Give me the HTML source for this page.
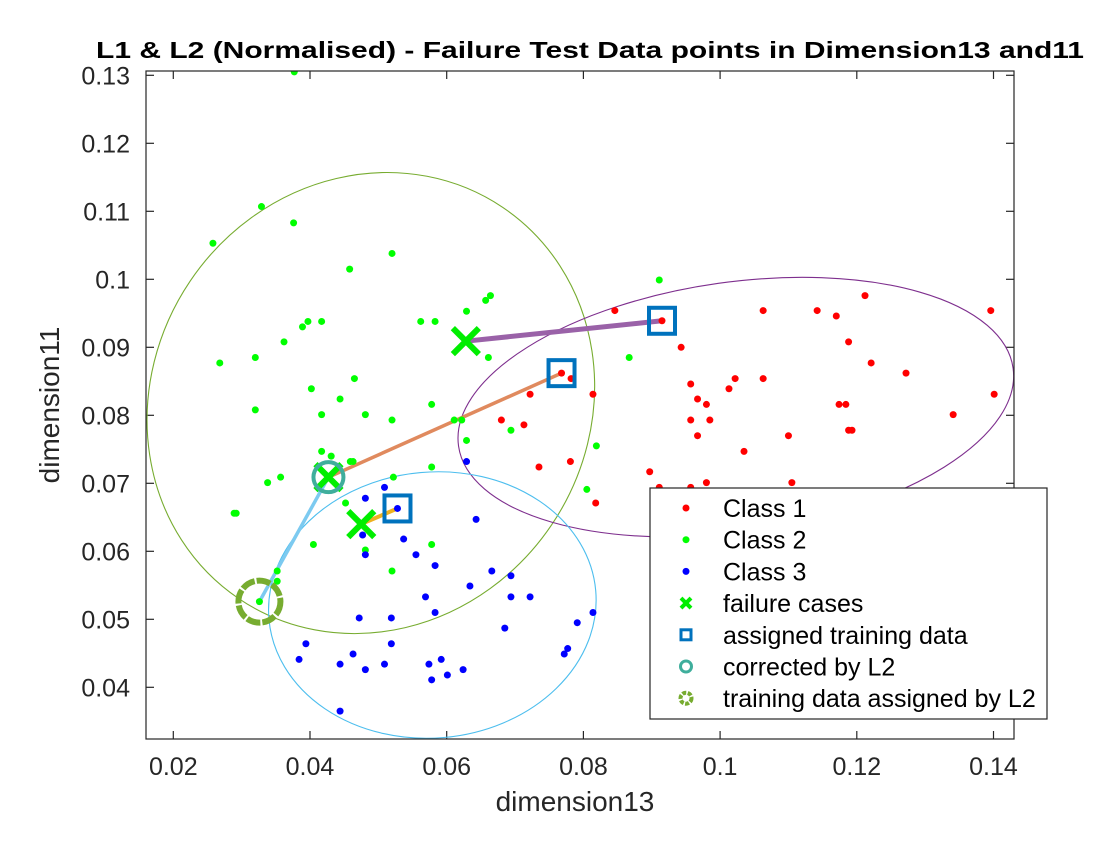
<!DOCTYPE html>
<html><head><meta charset="utf-8"><style>
body{margin:0;background:#fff;}
svg text{font-family:"Liberation Sans",sans-serif;}
</style></head><body>
<svg id="chart" width="1120" height="840" viewBox="0 0 1120 840" xmlns="http://www.w3.org/2000/svg">
<defs><clipPath id="clip"><rect x="146" y="71" width="868" height="668"/></clipPath></defs>
<rect x="0" y="0" width="1120" height="840" fill="#fff"/>
<rect x="146" y="71" width="868" height="668" fill="#fff"/>
<text x="590" y="58" text-anchor="middle" font-size="23" font-weight="bold" textLength="988" lengthAdjust="spacingAndGlyphs">L1 &amp; L2 (Normalised) - Failure Test Data points in Dimension13 and11</text>
<g id="axes"></g>
<g id="plot" clip-path="url(#clip)"></g>
<rect x="146" y="71" width="868" height="668" fill="none" stroke="#262626" stroke-width="1.2"/>
<text x="575" y="811" text-anchor="middle" font-size="28" fill="#262626">dimension13</text>
<text x="0" y="0" transform="translate(59,405) rotate(-90)" text-anchor="middle" font-size="28" fill="#262626">dimension11</text>
<g id="legend"></g>
</svg>
<script>
const xTicks=[0.02,0.04,0.06,0.08,0.1,0.12,0.14];
const yTicks=[0.04,0.05,0.06,0.07,0.08,0.09,0.1,0.11,0.12,0.13];
const class1X=[0.0846,0.0915,0.1063,0.1142,0.1170,0.1212,0.1396,0.0943,0.1188,0.1221,0.1272,0.0957,0.1022,0.1063,0.1013,0.1401,0.0967,0.0980,0.1174,0.1184,0.1341,0.0957,0.0985,0.1188,0.1193,0.0967,0.1100,0.1035,0.0897,0.0980,0.1105,0.0911,0.0957,0.0768,0.0782,0.0722,0.0814,0.0680,0.0713,0.0735,0.0781,0.0818];
const class1Y=[0.0954,0.0939,0.0954,0.0954,0.0946,0.0976,0.0954,0.0900,0.0908,0.0877,0.0862,0.0846,0.0854,0.0854,0.0839,0.0831,0.0824,0.0816,0.0816,0.0816,0.0801,0.0793,0.0793,0.0778,0.0778,0.0770,0.0770,0.0747,0.0717,0.0701,0.0701,0.0694,0.0694,0.0862,0.0854,0.0831,0.0831,0.0793,0.0786,0.0724,0.0732,0.0671];
const class2X=[0.0377,0.0329,0.0376,0.0258,0.0520,0.0458,0.0664,0.0657,0.0629,0.0562,0.0583,0.0397,0.0389,0.0417,0.0362,0.0268,0.0320,0.0661,0.0465,0.0402,0.0444,0.0578,0.0320,0.0417,0.0481,0.0520,0.0611,0.0622,0.0629,0.0819,0.0694,0.0911,0.0867,0.0578,0.0805,0.0417,0.0431,0.0459,0.0463,0.0338,0.0357,0.0522,0.0289,0.0292,0.0452,0.0405,0.0481,0.0578,0.0520,0.0352,0.0352,0.0326];
const class2Y=[0.1305,0.1107,0.1083,0.1053,0.1038,0.1015,0.0976,0.0969,0.0953,0.0938,0.0938,0.0938,0.0930,0.0938,0.0908,0.0877,0.0885,0.0885,0.0854,0.0839,0.0824,0.0816,0.0808,0.0801,0.0801,0.0793,0.0793,0.0793,0.0763,0.0755,0.0778,0.0999,0.0885,0.0724,0.0691,0.0747,0.0740,0.0732,0.0732,0.0701,0.0709,0.0709,0.0656,0.0656,0.0671,0.0610,0.0602,0.0610,0.0571,0.0571,0.0556,0.0526];
const class3X=[0.0629,0.0509,0.0481,0.0528,0.0643,0.0477,0.0481,0.0537,0.0555,0.0583,0.0666,0.0694,0.0634,0.0569,0.0694,0.0722,0.0583,0.0814,0.0472,0.0519,0.0791,0.0685,0.0394,0.0519,0.0777,0.0772,0.0463,0.0384,0.0444,0.0509,0.0481,0.0574,0.0592,0.0624,0.0601,0.0578,0.0444];
const class3Y=[0.0732,0.0694,0.0678,0.0663,0.0647,0.0624,0.0595,0.0618,0.0595,0.0579,0.0571,0.0564,0.0549,0.0533,0.0533,0.0533,0.0510,0.0510,0.0502,0.0502,0.0495,0.0487,0.0464,0.0464,0.0457,0.0449,0.0449,0.0441,0.0434,0.0434,0.0426,0.0434,0.0441,0.0426,0.0418,0.0411,0.0365];
const failureX=[0.0628,0.0475,0.0427];
const failureY=[0.0909,0.0640,0.0709];
const assignedX=[0.0915,0.0768,0.0528];
const assignedY=[0.0939,0.0862,0.0663];
const correctedX=[0.0427];
const correctedY=[0.0709];
const l2TrainX=[0.0326];
const l2TrainY=[0.0526];

const X0=0.02,PX0=173.3,SX=6835, Y0=0.07,PY0=483.3,SY=6800;
function sx(v){return PX0+(v-X0)*SX;}
function sy(v){return PY0-(v-Y0)*SY;}
const NS="http://www.w3.org/2000/svg";
function mk(tag,attrs,parent){const e=document.createElementNS(NS,tag);for(const k in attrs)e.setAttribute(k,attrs[k]);parent.appendChild(e);return e;}
const axes=document.getElementById('axes'),plot=document.getElementById('plot'),legend=document.getElementById('legend');

xTicks.forEach(t=>{const x=sx(t);
 const l=mk('line',{x1:x,x2:x,y1:739,y2:731,stroke:'#262626','stroke-width':1.2},axes);
 
 
 const l2=mk('line',{x1:x,x2:x,y1:71,y2:79,stroke:'#262626','stroke-width':1.2},axes);
 
 
 const tx=mk('text',{x:x,y:775,'text-anchor':'middle','font-size':25,fill:'#262626'},axes);tx.textContent=String(t);
 
 
});
yTicks.forEach(t=>{const y=sy(t);
 const l=mk('line',{x1:146,x2:154,y1:y,y2:y,stroke:'#262626','stroke-width':1.2},axes);
 
 
 const l2=mk('line',{x1:1014,x2:1006,y1:y,y2:y,stroke:'#262626','stroke-width':1.2},axes);
 
 
 const tx=mk('text',{x:130,y:y+9,'text-anchor':'end','font-size':25,fill:'#262626'},axes);tx.textContent=String(t);
 
 
});

function ell(cx,cy,rx,ry,rot,color,name){const e=mk('ellipse',{cx:0,cy:0,rx:rx,ry:ry,fill:'none',stroke:color,'stroke-width':1.1,transform:`translate(${sx(cx)},${sy(cy)}) rotate(${rot})`},plot);
 
 }
ell(0.0489,0.0818,236,218,-56,'#77ac30','class2-ellipse');
ell(0.1023,0.0812,280,125,-8,'#7e2f8e','class1-ellipse');
ell(0.0579,0.0521,164,133,-5,'#4dbeee','class3-ellipse');

function seg(x1,y1,x2,y2,color,w,name){const l=mk('line',{x1:sx(x1),y1:sy(y1),x2:sx(x2),y2:sy(y2),stroke:color,'stroke-width':w},plot);
 
 }
seg(failureX[0],failureY[0],assignedX[0],assignedY[0],'#9a62a8',5,'l1-link-1');
seg(correctedX[0],correctedY[0],assignedX[1],assignedY[1],'#e08a5e',3.5,'l1-link-2');
seg(failureX[1],failureY[1],assignedX[2],assignedY[2],'#edb120',4,'l1-link-3');
seg(correctedX[0],correctedY[0],l2TrainX[0],l2TrainY[0],'#7ccaf0',3.5,'l2-link');

function dots(xs,ys,color,name){xs.forEach((v,i)=>{const c=mk('circle',{cx:sx(v),cy:sy(ys[i]),r:3.5,fill:color},plot);
 
 });}
dots(class1X,class1Y,'#ff0000','class1-point');
dots(class2X,class2Y,'#00ff00','class2-point');
dots(class3X,class3Y,'#0000ff','class3-point');

function cross(x,y,s,w,parent){const g=mk('g',{},parent);
 mk('line',{x1:x-s,y1:y-s,x2:x+s,y2:y+s,stroke:'#00ee00','stroke-width':w},g);
 mk('line',{x1:x-s,y1:y+s,x2:x+s,y2:y-s,stroke:'#00ee00','stroke-width':w},g);return g;}
failureX.forEach((v,i)=>{const g=cross(sx(v),sy(failureY[i]),13,6,plot);
 
 });
assignedX.forEach((v,i)=>{const r=mk('rect',{x:sx(v)-13,y:sy(assignedY[i])-13,width:26,height:26,fill:'none',stroke:'#0072bd','stroke-width':4},plot);
 
 });
correctedX.forEach((v,i)=>{const c=mk('circle',{cx:sx(v),cy:sy(correctedY[i]),r:15,fill:'none',stroke:'#3fae9c','stroke-width':4},plot);
 
 });
l2TrainX.forEach((v,i)=>{const c=mk('circle',{cx:sx(v),cy:sy(l2TrainY[i]),r:21,fill:'none',stroke:'#77ac30','stroke-width':6,'stroke-dasharray':'14 2'},plot);
 
 });

const lb=mk('rect',{x:650,y:488,width:397,height:231,fill:'#fff',stroke:'#262626','stroke-width':1.2},legend);


const labels=['Class 1','Class 2','Class 3','failure cases','assigned training data','corrected by L2','training data assigned by L2'];
labels.forEach((t,i)=>{const y=508+i*31.7,mx=686;
 let m;
 if(i<3){m=mk('circle',{cx:mx,cy:y,r:3.5,fill:['#ff0000','#00ff00','#0000ff'][i]},legend);}
 else if(i==3){m=cross(mx,y,5,4,legend);}
 else if(i==4){m=mk('rect',{x:mx-5,y:y-5,width:10,height:10,fill:'none',stroke:'#0072bd','stroke-width':3},legend);}
 else if(i==5){m=mk('circle',{cx:mx,cy:y,r:5.5,fill:'none',stroke:'#3fae9c','stroke-width':3},legend);}
 else {m=mk('circle',{cx:mx,cy:y,r:5.5,fill:'none',stroke:'#77ac30','stroke-width':4,'stroke-dasharray':'4 1.5'},legend);}
 
 
 const tx=mk('text',{x:723,y:y+9,'font-size':25,fill:'#000'},legend);tx.textContent=t;
 
 
});
</script>
</body></html>
